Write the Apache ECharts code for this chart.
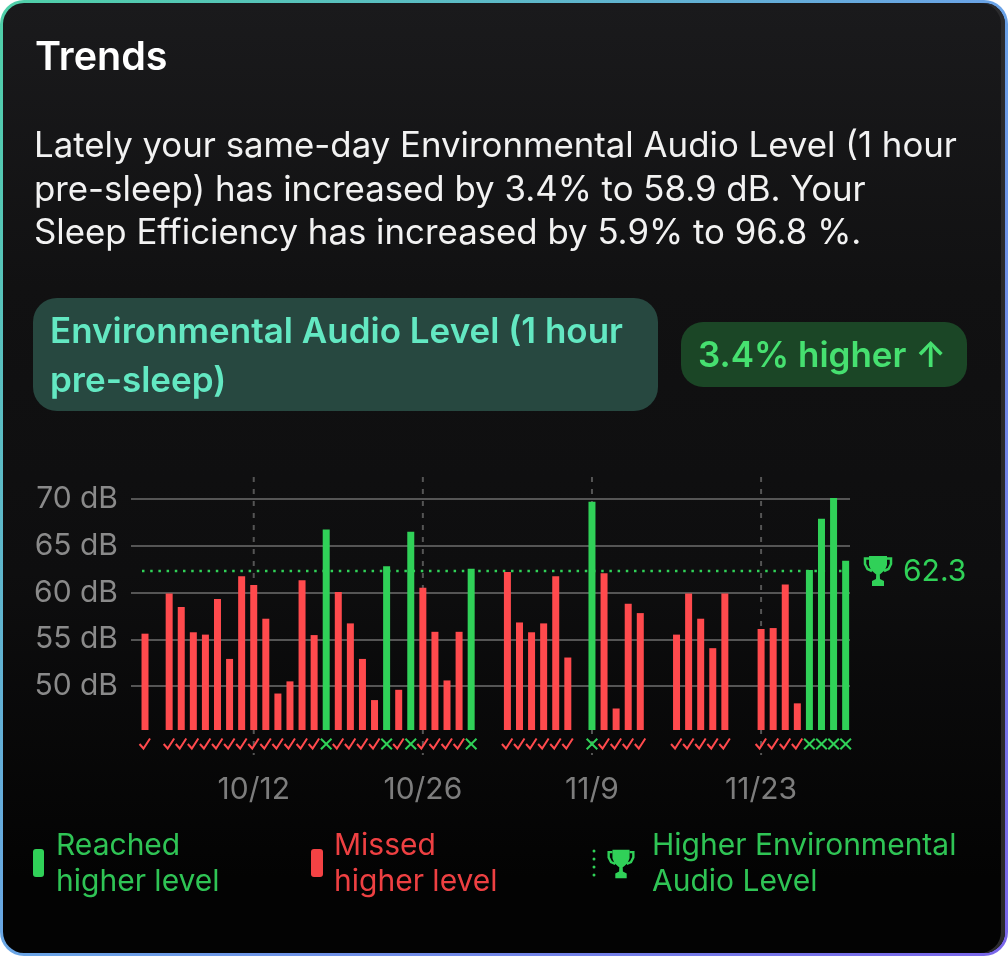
<!DOCTYPE html>
<html>
<head>
<meta charset="utf-8">
<title>Trends</title>
<script src="https://cdn.jsdelivr.net/npm/echarts@6/dist/echarts.min.js"></script>
<style>
    html, body { margin: 0; padding: 0; background: #fff; }
    #card { position: absolute; left: 0; top: 0; width: 1008px; height: 956px; border-radius: 24px;
        background: linear-gradient(135deg, #4fd0a8 0%, #6aa4e6 50%, #7a66ea 100%); }
    #inner { position: absolute; left: 3px; top: 3px; right: 3px; bottom: 3px; border-radius: 21px;
        background: linear-gradient(#1a1a1c 0%, #111112 30%, #0e0e0f 60%, #030303 92%);
        box-shadow: inset -4px 0 0 #2a2a2c; }
    #chart { position: absolute; left: 0; top: 0; width: 1008px; height: 956px; }
</style>
</head>
<body>
<div id="card"><div id="inner"></div></div>
<div id="chart"></div>
<script>
var FONT = 'Inter, "Noto Sans", sans-serif';

// one value per day, first day is 10/3, null = no reading
var values = [
    55.6, null, 59.9, 58.45, 55.75, 55.5, 59.3, 52.9, 61.75, 60.8,
    57.2, 49.2, 50.5, 61.3, 55.45, 66.75, 60.05, 56.7, 52.9, 48.5,
    62.8, 49.6, 66.5, 60.5, 55.8, 50.6, 55.8, 62.55, null, null,
    62.2, 56.8, 55.75, 56.7, 61.75, 53.05, null, 69.7, 62.05, 47.6,
    58.8, 57.8, null, null, 55.5, 59.9, 57.2, 54.05, 59.9, null,
    null, 56.1, 56.2, 60.85, 48.15, 62.4, 67.9, 70.1, 63.4
];
var target = 62.3;
var yTicks = [50, 55, 60, 65, 70];
var xTickDays = [9, 23, 37, 51];
var xTickLabels = ['10/12', '10/26', '11/9', '11/23'];
var bodyLines = [
    'Lately your same-day Environmental Audio Level (1 hour',
    'pre-sleep) has increased by 3.4% to 58.9 dB. Your',
    'Sleep Efficiency has increased by 5.9% to 96.8 %.'
];

var GREEN = '#30d158', RED = '#ff4a4d';
var Y_MIN = 45.3, Y_MAX = 72.46;

function barColor(v) {
    return v > target ? GREEN : RED;
}

var barData = [];
for (var i = 0; i < values.length; i++) {
    if (values[i] != null) {
        barData.push({value: [i, values[i]], itemStyle: {color: barColor(values[i])}});
    }
}

// text helper, everything outside the plot is placed by hand
function txt(x, y, str, size, color, weight, align) {
    return {
        type: 'text', x: x, y: y, silent: true,
        style: {
            text: str, fill: color,
            font: (weight || 400) + ' ' + size + 'px ' + FONT,
            align: align || 'left', verticalAlign: 'middle'
        }
    };
}

function trophy(cx, cy, scale, color) {
    return {
        type: 'group', x: cx, y: cy, scaleX: scale, scaleY: scale, silent: true,
        children: [
            {type: 'polygon', shape: {points: [[-9, -15], [9, -15], [9, -6], [7, -1], [3, 2.5], [1.8, 3.5], [2, 8], [6, 10], [6, 15], [-6, 15], [-6, 10], [-2, 8], [-1.8, 3.5], [-3, 2.5], [-7, -1], [-9, -6]]}, style: {fill: color}},
            {type: 'polyline', shape: {points: [[-9, -12.5], [-13, -12.5], [-13, -7], [-10.5, -2], [-6, 0]]}, style: {stroke: color, fill: null, lineWidth: 2.5}},
            {type: 'polyline', shape: {points: [[9, -12.5], [13, -12.5], [13, -7], [10.5, -2], [6, 0]]}, style: {stroke: color, fill: null, lineWidth: 2.5}}
        ]
    };
}

var graphics = [
    txt(35, 58, 'Trends', 39.5, '#ffffff', 600),
    txt(34, 147, bodyLines[0], 34.8, '#f2f2f2'),
    txt(34, 191, bodyLines[1], 34.8, '#f2f2f2'),
    txt(34, 234, bodyLines[2], 34.8, '#f2f2f2'),

    {type: 'rect', shape: {x: 33, y: 298, width: 625, height: 113, r: 24}, style: {fill: '#274840'}, silent: true},
    txt(50, 332, 'Environmental Audio Level (1 hour', 35, '#63e8c2', 600),
    txt(50, 381, 'pre-sleep)', 35, '#63e8c2', 600),

    {type: 'rect', shape: {x: 681, y: 322, width: 286, height: 65, r: 22}, style: {fill: '#1b4626'}, silent: true},
    txt(698, 356, '3.4% higher ↑', 35, '#46e070', 600),

    trophy(878, 571, 1, GREEN),
    txt(903, 572, String(target), 30, GREEN),

    // legend
    {type: 'rect', shape: {x: 33, y: 849, width: 11, height: 28, r: 3}, style: {fill: GREEN}, silent: true},
    txt(56, 846, 'Reached', 30, '#2fc455'),
    txt(56, 882, 'higher level', 30, '#2fc455'),
    {type: 'rect', shape: {x: 311, y: 849, width: 12, height: 28, r: 3}, style: {fill: '#f44244'}, silent: true},
    txt(334, 846, 'Missed', 30, '#ee4042'),
    txt(334, 882, 'higher level', 30, '#ee4042'),
    {type: 'circle', shape: {cx: 594, cy: 851, r: 1.5}, style: {fill: GREEN}, silent: true},
    {type: 'circle', shape: {cx: 594, cy: 859, r: 1.5}, style: {fill: GREEN}, silent: true},
    {type: 'circle', shape: {cx: 594, cy: 867, r: 1.5}, style: {fill: GREEN}, silent: true},
    {type: 'circle', shape: {cx: 594, cy: 875, r: 1.5}, style: {fill: GREEN}, silent: true},
    trophy(621, 864, 0.95, GREEN),
    txt(652, 846, 'Higher Environmental', 30, '#2fc455'),
    txt(652, 882, 'Audio Level', 30, '#2fc455')
];

// check / cross under each bar, drawn below the axis floor
function renderMark(params, api) {
    var x = api.value(0), v = api.value(1);
    var p = api.coord([x, Y_MIN]);
    var cx = p[0], cy = p[1] + 14;
    var color = barColor(v);
    var style = {stroke: color, fill: null, lineWidth: 2};
    if (v > target) {
        return {type: 'group', children: [
            {type: 'line', shape: {x1: cx - 5.3, y1: cy - 5.3, x2: cx + 5.3, y2: cy + 5.3}, style: style},
            {type: 'line', shape: {x1: cx - 5.3, y1: cy + 5.3, x2: cx + 5.3, y2: cy - 5.3}, style: style}
        ]};
    }
    return {type: 'polyline', shape: {points: [[cx - 5.5, cy], [cx - 1.5, cy + 4.5], [cx + 5, cy - 5.5]]}, style: style};
}

// dashed date guides, run past the plot floor to below the marks
function renderGuide(params, api) {
    var p = api.coord([api.value(0), Y_MIN]);
    return {
        type: 'line',
        shape: {x1: p[0], y1: 477, x2: p[0], y2: 755},
        style: {stroke: '#555555', lineWidth: 2, lineDash: [5, 7]}
    };
}

var myChart = echarts.init(document.getElementById('chart'));
myChart.setOption({
    animation: false,
    backgroundColor: 'transparent',
    textStyle: {fontFamily: FONT},
    grid: {left: 131, width: 719, top: 476, height: 254},
    xAxis: {
        type: 'value',
        min: -1.16,
        max: 58.36,
        splitLine: {show: false},
        axisLine: {show: false},
        axisTick: {show: false},
        axisLabel: {
            customValues: xTickDays,
            margin: 45,
            fontSize: 30,
            color: '#7d7d7d',
            formatter: function (val) {
                return xTickLabels[xTickDays.indexOf(val)];
            }
        }
    },
    yAxis: {
        type: 'value',
        min: Y_MIN,
        max: Y_MAX,
        axisLine: {show: false},
        axisTick: {show: false, customValues: yTicks},
        splitLine: {lineStyle: {color: '#555555', width: 2}},
        axisLabel: {
            customValues: yTicks,
            margin: 13,
            fontSize: 30,
            color: '#8a8a8a',
            formatter: function (val) {
                return val + ' dB';
            }
        }
    },
    series: [
        {
            type: 'custom',
            z: 1,
            silent: true,
            renderItem: renderGuide,
            data: xTickDays
        },
        {
            type: 'line',
            z: 1,
            silent: true,
            showSymbol: false,
            symbol: 'none',
            lineStyle: {color: GREEN, width: 2.5, type: [2.5, 5.7]},
            data: [[-0.25, target], [57.9, target]]
        },
        {
            type: 'bar',
            z: 2,
            barWidth: 7,
            data: barData
        },
        {
            type: 'custom',
            z: 3,
            silent: true,
            renderItem: renderMark,
            encode: {x: 0, y: 1},
            data: barData.map(function (d) { return d.value; })
        }
    ],
    graphic: {elements: graphics}
});
</script>
</body>
</html>
